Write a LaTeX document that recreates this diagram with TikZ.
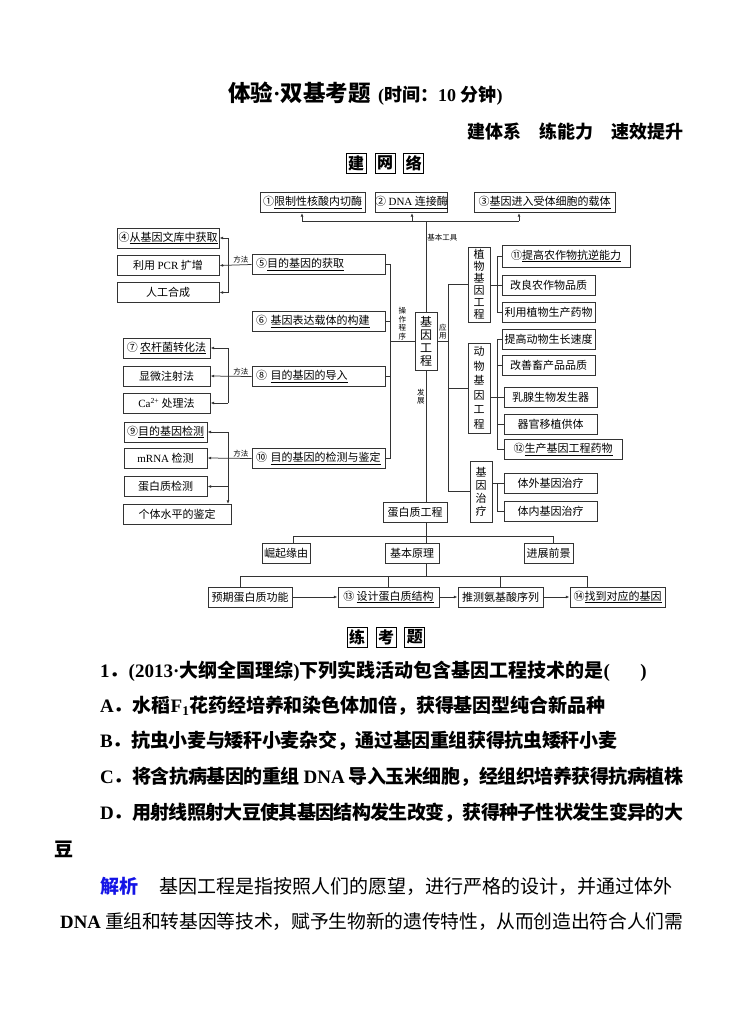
\documentclass[tikz,border=0pt]{standalone}
\usepackage{fontspec}
\setmainfont{Noto Sans CJK SC}
\newfontfamily\tnr{Liberation Serif}
\usetikzlibrary{arrows.meta,positioning}
\XeTeXlinebreaklocale "zh"
\XeTeXlinebreakskip=0pt plus 4pt minus 2.6pt
\newcommand\fs[2]{\fontsize{#1}{#2}\selectfont}
\definecolor{ink}{HTML}{333333}
\definecolor{jxblue}{HTML}{1414E6}
\tikzset{
  every picture/.style={line join=miter, >={Latex[length=3.6pt,width=2.8pt]}},
  bx/.style={draw=ink, line width=1pt, inner sep=0pt, minimum height=20pt, font=\fs{11}{13}},
  lbx/.style={bx, inner xsep=4pt, text width=#1, align=left},
  vbx/.style={bx, minimum width=22pt, align=center},
  conn/.style={draw=ink, line width=0.75pt},
  tag/.style={inner sep=1pt, font=\fs{7.5}{8.5}, align=center},
  sq/.style={draw, line width=0.8pt, minimum size=20pt, inner sep=0pt, font=\fs{16}{16}\bfseries},
  qline/.style={inner sep=0pt, anchor=west, font=\fs{19}{19}\bfseries},
  jline/.style={inner sep=0pt, anchor=west, text width=#1, align=justify},
}

\begin{document}
\begin{tikzpicture}[x=1pt,y=-1pt]
\fill[white] (0,0) rectangle (745,1033);
\useasboundingbox (0,0) rectangle (745,1033);

% heading
\node[inner sep=0pt, anchor=west, font=\fs{22.5}{22.5}\bfseries] (ttl) at (228,93) {体验{\tnr ·}双基考题};
\node[inner sep=0pt, base right=7pt of ttl, font=\fs{18}{18}\bfseries] (tme) {{\tnr(}时间：{\tnr 10 }分钟{\tnr)}};
\node[inner sep=0pt, anchor=east, font=\fs{18}{18}\bfseries] (sub) at (684,132) {建体系\quad 练能力\quad 速效提升};
\node[sq] (jw2) at (385,163) {网};
\node[sq, left=8pt of jw2] (jw1) {建};
\node[sq, right=8pt of jw2] (jw3) {络};

% tools
\node[bx, minimum width=105pt] (t1) at (312.5,202.5) {①\underline{限制性核酸内切酶}};
\node[bx, minimum width=71pt] (t2) at (411.5,202.5) {② \underline{{\tnr DNA} 连接酶}};
\node[bx, minimum width=141pt] (t3) at (544.5,202.5) {③\underline{基因进入受体细胞的载体}};

% procedure
\node[bx, minimum width=102pt] (m1) at (168,238) {④\underline{从基因文库中获取}};
\node[bx, minimum width=102pt] (m2) at (168,265.5) {利用 {\tnr PCR} 扩增};
\node[bx, minimum width=102pt] (m3) at (168,292.5) {人工合成};
\node[lbx=125pt] (s5) at (318.5,264.5) {⑤\underline{目的基因的获取}};
\node[lbx=125pt] (s6) at (318.5,321.5) {⑥ \underline{基因表达载体的构建}};
\node[lbx=125pt] (s8) at (318.5,376.5) {⑧ \underline{目的基因的导入}};
\node[lbx=125pt] (s10) at (318.5,458.5) {⑩ \underline{目的基因的检测与鉴定}};
\node[bx, minimum width=87pt] (d1) at (166.5,348) {⑦ \underline{农杆菌转化法}};
\node[bx, minimum width=87pt] (d2) at (166.5,376) {显微注射法};
\node[bx, minimum width=87pt] (d3) at (166.5,403) {{\tnr Ca\textsuperscript{2+}} 处理法};
\node[bx, minimum width=83pt] (c1) at (165.5,432) {⑨\underline{目的基因检测}};
\node[bx, minimum width=83pt] (c2) at (165.5,458) {{\tnr mRNA} 检测};
\node[bx, minimum width=83pt] (c3) at (165.5,486.5) {蛋白质检测};
\node[bx, minimum width=108pt] (c4) at (177,514.5) {个体水平的鉴定};

% centre and applications
\node[vbx, minimum height=58pt, font=\fs{12}{13}] (ge) at (426,341) {基\\因\\工\\程};
\node[vbx, minimum height=75pt, font=\fs{11}{12}] (pl) at (479,284.5) {植\\物\\基\\因\\工\\程};
\node[vbx, minimum height=90pt, font=\fs{11}{14.5}] (an) at (479,388) {动\\物\\基\\因\\工\\程};
\node[vbx, minimum height=61pt, font=\fs{11}{13}] (gt) at (481,491.5) {基\\因\\治\\疗};
\node[bx, minimum width=128pt, minimum height=22pt] (p1) at (566,256) {⑪\underline{提高农作物抗逆能力}};
\node[bx, minimum width=93pt] (p2) at (548.5,285) {改良农作物品质};
\node[bx, minimum width=93pt] (p3) at (548.5,312.5) {利用植物生产药物};
\node[bx, minimum width=93pt] (a1) at (548.5,339.5) {提高动物生长速度};
\node[bx, minimum width=93pt] (a2) at (548.5,365.5) {改善畜产品品质};
\node[bx, minimum width=93pt] (a3) at (550.5,397) {乳腺生物发生器};
\node[bx, minimum width=93pt] (a4) at (550.5,424.5) {器官移植供体};
\node[bx, minimum width=118pt] (a5) at (563,449.5) {⑫\underline{生产基因工程药物}};
\node[bx, minimum width=93pt] (g1) at (550.5,483) {体外基因治疗};
\node[bx, minimum width=93pt] (g2) at (550.5,511) {体内基因治疗};

% protein engineering
\node[bx, minimum width=64pt] (pe) at (415,512) {蛋白质工程};
\node[bx, minimum width=48pt] (r1) at (286,553) {崛起缘由};
\node[bx, minimum width=54pt] (r2) at (412,553) {基本原理};
\node[bx, minimum width=49pt] (r3) at (548.5,553) {进展前景};
\node[bx, minimum width=84pt] (b1) at (250,597) {预期蛋白质功能};
\node[bx, minimum width=101pt] (b2) at (388.5,597) {⑬ \underline{设计蛋白质结构}};
\node[bx, minimum width=85pt] (b3) at (500.5,597) {推测氨基酸序列};
\node[bx, minimum width=95pt] (b4) at (617.5,597) {⑭\underline{找到对应的基因}};

\coordinate (u1) at (302,221);
\coordinate (u2) at (412,221);
\coordinate (u3) at (519,221);
\coordinate (lt) at (390,0);
\coordinate (rt) at (448,0);
\coordinate (br) at (497,0);
\coordinate (mb) at (228,0);
\coordinate (k1) at (293,536);
\coordinate (k3) at (553,536);
\coordinate (h1) at (240,576);
\coordinate (h4) at (587,576);

\draw[conn] (ge.north) -- node[tag, right, pos=0.82]{基本工具} (ge.north |- u1);
\draw[conn] (u1) -- (u3);
\draw[conn,->] (u1) -- (u1 |- t1.south);
\draw[conn,->] (u2) -- (u2 |- t2.south);
\draw[conn,->] (u3) -- (u3 |- t3.south);

\draw[conn] (s5.east) -- (s5.east -| lt) -- (s10.east -| lt) -- (s10.east);
\draw[conn] (s6.east) -- (s6.east -| lt);
\draw[conn] (s8.east) -- (s8.east -| lt);
\draw[conn] (ge.west) -- node[tag, above]{操\\作\\程\\序} (ge.west -| lt);

\draw[conn,->] (s5.west) -- node[tag, above, pos=0.33]{方法} (m2.east);
\draw[conn] (m1.east -| mb) -- (m3.east -| mb);
\draw[conn,->] (m1.east -| mb) -- (m1.east);
\draw[conn,->] (m3.east -| mb) -- (m3.east);
\draw[conn,->] (s8.west) -- node[tag, above, pos=0.26]{方法} (d2.east);
\draw[conn] (d1.east -| mb) -- (d3.east -| mb);
\draw[conn,->] (d1.east -| mb) -- (d1.east);
\draw[conn,->] (d3.east -| mb) -- (d3.east);
\draw[conn,->] (s10.west) -- node[tag, above, pos=0.24]{方法} (c2.east);
\draw[conn,->] (c1.east -| mb) -- (c1.east);
\draw[conn,->] (c3.east -| mb) -- (c3.east);
\draw[conn,->] (c1.east -| mb) -- (c4.north -| mb);

\draw[conn] (ge.east) -- node[tag, above]{应\\用} (ge.east -| rt);
\draw[conn] (pl.west) -- (pl.west -| rt) -- (gt.west -| rt) -- (gt.west);
\draw[conn] (an.west) -- (an.west -| rt);
\draw[conn] (pl.east |- p2.west) -- (p2.west);
\draw[conn] (p1.west) -- (p1.west -| br) -- (p3.west -| br) -- (p3.west);
\draw[conn] (an.east |- a3.west) -- (a3.west);
\draw[conn] (a1.west) -- (a1.west -| br) -- (a5.west -| br) -- (a5.west);
\draw[conn] (a2.west -| br) -- (a2.west);
\draw[conn] (a4.west -| br) -- (a4.west);
\draw[conn] (gt.east |- g1.west) -- (g1.west);
\draw[conn] (g1.west -| br) -- (g2.west -| br) -- (g2.west);

\draw[conn] (ge.south) -- node[tag, left, pos=0.2]{发\\展} (ge.south |- pe.north);
\draw[conn] (ge.south |- pe.south) -- (ge.south |- r2.north);
\draw[conn] (r1.north -| k1) -- (k1) -- (k3) -- (r3.north -| k3);
\draw[conn] (ge.south |- r2.south) -- (ge.south |- h1);
\draw[conn] (b1.north -| h1) -- (h1) -- (h4) -- (b4.north -| h4);
\draw[conn] (b2.north) -- (b2.north |- h1);
\draw[conn] (b3.north) -- (b3.north |- h1);
\draw[conn,->] (b1) -- (b2);
\draw[conn,->] (b2) -- (b3);
\draw[conn,->] (b3) -- (b4);

% exercise
\node[sq] (lk2) at (386,637) {考};
\node[sq, left=8pt of lk2] (lk1) {练};
\node[sq, right=8pt of lk2] (lk3) {题};
\node[qline] (qn) at (100,671) {{\tnr 1}．{\tnr (2013·}大纲全国理综{\tnr )}下列实践活动包含基因工程技术的是{\tnr (}\hspace{1.6em}{\tnr )}};
\node[jline=505pt, font=\fs{19}{19}\bfseries] (qa) at (100,706) {\parfillskip=0pt\noindent{\tnr A}．水稻{\tnr F\textsubscript{1}}花药经培养和染色体加倍，获得基因型纯合新品种};
\node[jline=517pt, font=\fs{19}{19}\bfseries] (qb) at (100,741) {\parfillskip=0pt\noindent{\tnr B}．抗虫小麦与矮秆小麦杂交，通过基因重组获得抗虫矮秆小麦};
\node[jline=583pt, font=\fs{19}{19}\bfseries] (qc) at (100,777) {\parfillskip=0pt\noindent{\tnr C}．将含抗病基因的重组 {\tnr DNA} 导入玉米细胞，经组织培养获得抗病植株};
\node[jline=583pt, font=\fs{19}{19}\bfseries] (qd) at (100,813) {\parfillskip=0pt\noindent{\tnr D}．用射线照射大豆使其基因结构发生改变，获得种子性状发生变异的大};
\node[qline] (qe) at (54,849) {豆};
\node[jline=583pt, font=\fs{19}{19}] (jx) at (100,886) {\parfillskip=0pt\noindent{\color{jxblue}\bfseries 解析}\hspace{1.1em}基因工程是指按照人们的愿望，进行严格的设计，并通过体外};
\node[jline=623pt, font=\fs{18.8}{19}] (jy) at (60,922) {\parfillskip=0pt\noindent{\tnr\bfseries DNA} 重组和转基因等技术，赋予生物新的遗传特性，从而创造出符合人们需};
\end{tikzpicture}
\end{document}
